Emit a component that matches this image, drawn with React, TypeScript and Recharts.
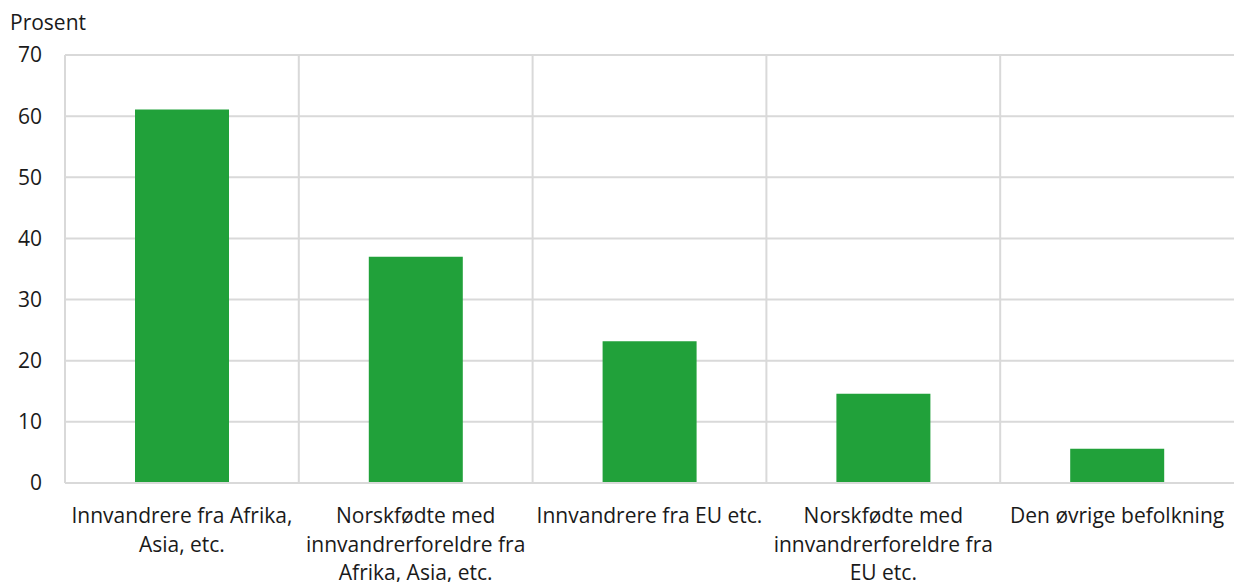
import { BarChart, Bar, XAxis, YAxis, CartesianGrid } from 'recharts';

// kategorier (linjeskift som i originalen)
const categories = [
  'Innvandrere fra Afrika,\nAsia, etc.',
  'Norskfødte med\ninnvandrerforeldre fra\nAfrika, Asia, etc.',
  'Innvandrere fra EU etc.',
  'Norskfødte med\ninnvandrerforeldre fra\nEU etc.',
  'Den øvrige befolkning',
];
const values = [61.1, 37.0, 23.2, 14.6, 5.6];
const yTicks = [0, 10, 20, 30, 40, 50, 60, 70];
const unitLabel = 'Prosent';

const FONT = '"Open Sans", sans-serif';
const TEXT = '#1a1a1a';
const GRID = '#d9d9d9';
const GREEN = '#21a13a';
const FS = 21;

const data = categories.map((name, i) => ({ name, value: values[i] }));

function CategoryTick(props: any) {
  const { x, y, payload } = props;
  const lines = String(payload.value).split('\n');
  return (
    <text x={x} y={y} textAnchor="middle" fill={TEXT} fontSize={FS} fontFamily={FONT}>
      {lines.map((line, i) => (
        <tspan key={i} x={x} dy={i === 0 ? 32 : 28.5}>
          {line}
        </tspan>
      ))}
    </text>
  );
}

export default function App() {
  return (
    <div style={{ position: 'absolute', left: 0, top: 0, background: '#fff' }}>
      <BarChart
        width={1234}
        height={582}
        data={data}
        margin={{ top: 55, right: 0, bottom: 0, left: 0 }}
        barSize={94}
      >
        <CartesianGrid
          stroke={GRID}
          strokeWidth={2}
          verticalCoordinatesGenerator={({ offset }: any) =>
            categories.map((_, i) => offset.left + (i * offset.width) / categories.length)
          }
        />
        <XAxis
          dataKey="name"
          interval={0}
          axisLine={{ stroke: GRID, strokeWidth: 2 }}
          tickLine={false}
          height={99}
          tick={<CategoryTick />}
        />
        <YAxis
          width={65}
          domain={[0, 70]}
          ticks={yTicks}
          axisLine={false}
          tickLine={false}
          tickSize={0}
          tickMargin={23}
          tick={{ fill: TEXT, fontSize: FS, fontFamily: FONT }}
          label={{
            content: () => (
              <text x={10} y={30} fill={TEXT} fontSize={FS} fontFamily={FONT}>
                {unitLabel}
              </text>
            ),
          }}
        />
        <Bar dataKey="value" fill={GREEN} isAnimationActive={false} />
      </BarChart>
    </div>
  );
}
